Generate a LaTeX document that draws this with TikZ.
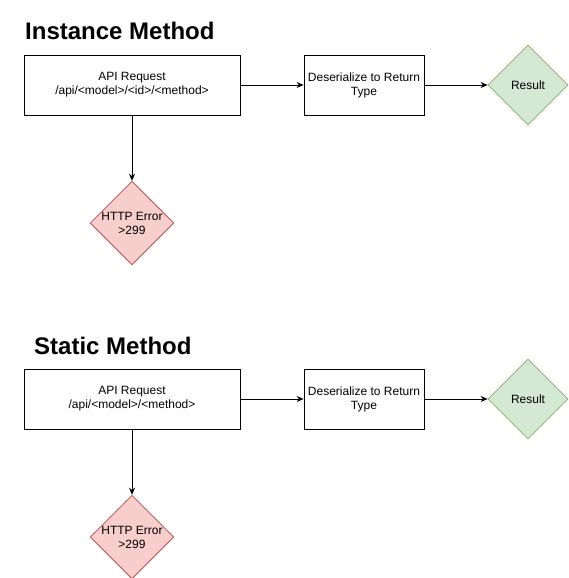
\documentclass[tikz,border=0pt]{standalone}
\usepackage{fontspec}
\setmainfont{Liberation Sans}
\usepackage{xcolor}
\usetikzlibrary{shapes.geometric,arrows.meta}

\definecolor{okfill}{HTML}{D5E8D4}
\definecolor{okline}{HTML}{82B366}
\definecolor{errfill}{HTML}{F8CECC}
\definecolor{errline}{HTML}{B85450}

\tikzset{
  stepbox/.style={draw, line width=0.8pt, inner sep=0pt, align=center,
    font=\fontsize{12}{14}\selectfont},
  goodend/.style={diamond, draw=okline, fill=okfill, line width=0.8pt, inner sep=0pt,
    minimum size=80pt, aspect=1, align=center, font=\fontsize{12}{14}\selectfont},
  badend/.style={diamond, draw=errline, fill=errfill, line width=0.8pt, inner sep=0pt,
    minimum size=80pt, aspect=1, align=center, font=\fontsize{12}{14}\selectfont},
  heading/.style={anchor=west, inner sep=0pt, font=\fontsize{24}{28}\selectfont\bfseries},
  flow/.style={-{Stealth[length=7pt,width=6pt]}, line width=0.8pt}
}

\begin{document}
\begin{tikzpicture}[x=1pt, y=-1pt]
    \useasboundingbox (0,0) rectangle (569,578);

    % Instance method
    \node[heading] (title1) at (25,31) {Instance Method};
    \node[stepbox, minimum width=216pt, minimum height=60pt] (req1) at (132,85) {API Request\\/api/<model>/<id>/<method>};
    \node[stepbox, minimum width=120pt, minimum height=60pt] (deser1) at (364,85) {Deserialize to Return\\Type};
    \node[goodend] (res1) at (528,85) {Result};
    \node[badend] (err1) at (132,223) {HTTP Error\\>299};

    \draw[flow] (req1) -- (deser1);
    \draw[flow] (deser1) -- (res1);
    \draw[flow] (req1) -- (err1);

    % Static method
    \node[heading] (title2) at (34,346) {Static Method};
    \node[stepbox, minimum width=216pt, minimum height=60pt] (req2) at (132,399) {API Request\\/api/<model>/<method>};
    \node[stepbox, minimum width=120pt, minimum height=60pt] (deser2) at (364,399) {Deserialize to Return\\Type};
    \node[goodend] (res2) at (528,399) {Result};
    \node[badend] (err2) at (132,537) {HTTP Error\\>299};

    \draw[flow] (req2) -- (deser2);
    \draw[flow] (deser2) -- (res2);
    \draw[flow] (req2) -- (err2);
\end{tikzpicture}
\end{document}
